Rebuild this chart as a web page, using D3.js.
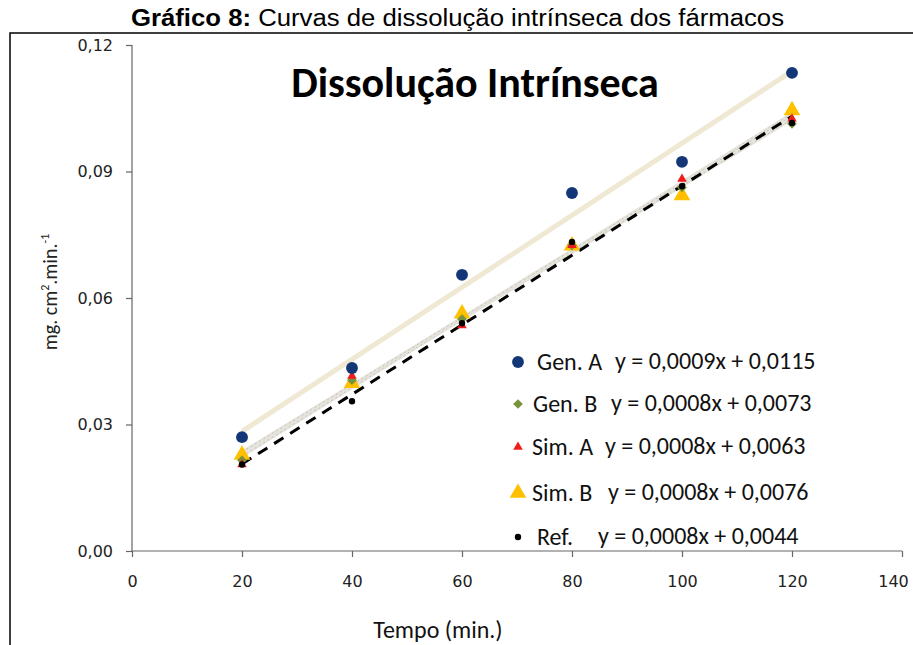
<!DOCTYPE html>
<html>
<head>
<meta charset="utf-8">
<script src="https://cdn.jsdelivr.net/npm/d3@7"></script>
<style>
	body { margin: 0; background: #fff; }
	svg { display: block; }
</style>
</head>
<body>
<svg id="chart" width="913" height="645"></svg>
<script>
// tempo (min.)
var tempos = [20, 40, 60, 80, 100, 120];

// mg.cm2.min-1
var genA = [0.0270, 0.0434, 0.0655, 0.0849, 0.0923, 0.1134];
var genB = [0.0215, 0.0405, 0.0550, 0.0725, 0.0862, 0.1013];
var simA = [0.0205, 0.0415, 0.0535, 0.0725, 0.0882, 0.1025];
var simB = [0.0228, 0.0398, 0.0563, 0.0724, 0.0843, 0.1045];
var ref  = [0.0205, 0.0355, 0.0540, 0.0733, 0.0865, 0.1015];

var legendNames = ["Gen. A", "Gen. B", "Sim. A", "Sim. B", "Ref."];
var equations = ["y = 0,0009x + 0,0115", "y = 0,0008x + 0,0073", "y = 0,0008x + 0,0063",
	"y = 0,0008x + 0,0076", "y = 0,0008x + 0,0044"];

var xTicks = [0, 20, 40, 60, 80, 100, 120, 140];
var yTicks = [0, 0.03, 0.06, 0.09, 0.12];

var svg = d3.select("#chart");

var x = d3.scaleLinear().domain([0, 140]).range([132, 902]);
var y = d3.scaleLinear().domain([0, 0.12]).range([551, 45]);

var comma = function(d) { return d3.format(".2f")(d).replace(".", ","); };
var calibri = "Carlito, Lato, sans-serif";
var verdana = "'DejaVu Sans', Verdana, sans-serif";

// outer frame
svg.append("path")
	.attr("d", "M10,645 L10,33 L913,33")
	.attr("fill", "none")
	.attr("stroke", "#000")
	.attr("stroke-width", 1.5);

// title
var title = svg.append("text")
	.attr("x", 131).attr("y", 26)
	.attr("textLength", 653)
	.attr("lengthAdjust", "spacingAndGlyphs")
	.style("font-family", "'Liberation Sans', Arial, sans-serif")
	.style("font-size", "23px")
	.attr("fill", "#000");
title.append("tspan").style("font-weight", "bold").text("Gráfico 8:");
title.append("tspan").text(" Curvas de dissolução intrínseca dos fármacos");

// axes
var xAxis = d3.axisBottom(x).tickValues(xTicks).tickSize(6).tickPadding(19).tickFormat(d3.format("d"));
var yAxis = d3.axisLeft(y).tickValues(yTicks).tickSize(6).tickPadding(13).tickFormat(comma);

var gx = svg.append("g").attr("transform", "translate(0," + y(0) + ")").call(xAxis);
var gy = svg.append("g").attr("transform", "translate(" + x(0) + ",0)").call(yAxis);

[gx, gy].forEach(function(g) {
	g.select(".domain").attr("stroke", "#666").attr("stroke-width", 1.2);
	g.selectAll(".tick line").attr("stroke", "#666").attr("stroke-width", 1.2);
	g.selectAll(".tick text")
		.style("font-family", verdana)
		.style("font-size", "16px")
		.attr("fill", "#222");
});
gx.select(".domain").attr("d", "M" + x(0) + ",0H" + x(140));
gy.select(".domain").attr("d", "M0," + y(0.12) + "V" + y(0));
// last label sits against the page edge
gx.selectAll(".tick text").filter(function(d) { return d === 140; }).attr("dx", -9);

// chart title
svg.append("text")
	.attr("x", 475).attr("y", 97)
	.attr("text-anchor", "middle")
	.style("font-family", calibri)
	.style("font-weight", "bold")
	.style("font-size", "42px")
	.attr("fill", "#000")
	.text("Dissolução Intrínseca");

// axis titles
svg.append("text")
	.attr("x", 438).attr("y", 638)
	.attr("text-anchor", "middle")
	.style("font-family", calibri)
	.style("font-size", "24px")
	.attr("fill", "#111")
	.text("Tempo (min.)");

var yl = svg.append("text")
	.attr("transform", "translate(57,292) rotate(-90)")
	.attr("text-anchor", "middle")
	.style("font-family", calibri)
	.style("font-size", "20px")
	.attr("fill", "#222");
yl.append("tspan").text("mg. cm");
yl.append("tspan").attr("dy", -8).style("font-size", "12px").text("2");
yl.append("tspan").attr("dy", 8).text(".min.");
yl.append("tspan").attr("dy", -8).style("font-size", "12px").text("-1");

// least squares trend line
function fit(vals) {
	var mx = d3.mean(tempos), my = d3.mean(vals);
	var sxy = d3.sum(tempos, function(t, i) { return (t - mx) * (vals[i] - my); });
	var sxx = d3.sum(tempos, function(t) { return (t - mx) * (t - mx); });
	var b = sxy / sxx;
	var a = my - b * mx;
	return [[20, a + b * 20], [120, a + b * 120]];
}

var line = d3.line().x(function(d) { return x(d[0]); }).y(function(d) { return y(d[1]); });

// thin greyish lines for Gen. B, Sim. A, Sim. B
[genB, simA, simB].forEach(function(vals) {
	svg.append("path").attr("d", line(fit(vals)))
		.attr("fill", "none").attr("stroke", "#e6e4dc").attr("stroke-width", 3);
	svg.append("path").attr("d", line(fit(vals)))
		.attr("fill", "none").attr("stroke", "#c4c2ba").attr("stroke-width", 1)
		.attr("stroke-dasharray", "2,3");
});
svg.append("path").attr("d", line(fit(genA)))
	.attr("fill", "none").attr("stroke", "#efe8d2").attr("stroke-width", 5);
svg.append("path").attr("d", line(fit(ref)))
	.attr("fill", "none").attr("stroke", "#000").attr("stroke-width", 3)
	.attr("stroke-dasharray", "11,8");

// markers
var symGenA = d3.symbol().type(d3.symbolCircle).size(110);
var symGenB = d3.symbol().type(d3.symbolDiamond2).size(60);
var symSimA = d3.symbol().type(d3.symbolTriangle).size(40);
var symSimB = d3.symbol().type(d3.symbolTriangle).size(120);
var symRef = d3.symbol().type(d3.symbolCircle).size(32);

var series = [
	{ vals: simB, sym: symSimB, color: "#ffc000" },
	{ vals: genB, sym: symGenB, color: "#77933c" },
	{ vals: simA, sym: symSimA, color: "#ee1c1c" },
	{ vals: ref, sym: symRef, color: "#000000" },
	{ vals: genA, sym: symGenA, color: "#133776" }
];

series.forEach(function(s) {
	svg.append("g").selectAll("path")
		.data(s.vals)
		.enter().append("path")
		.attr("d", s.sym)
		.attr("transform", function(d, i) { return "translate(" + x(tempos[i]) + "," + y(d) + ")"; })
		.attr("fill", s.color);
});

// legend
var legRows = [362, 404, 447, 493, 537];
var nameX = [537, 533, 532, 532, 537];
var eqX = [615, 611, 605, 608, 598];
var legSyms = [symGenA, symGenB, symSimA, symSimB, symRef];
var legColors = ["#133776", "#77933c", "#ee1c1c", "#ffc000", "#000000"];

legendNames.forEach(function(n, i) {
	svg.append("path")
		.attr("d", legSyms[i])
		.attr("transform", "translate(518," + legRows[i] + ")")
		.attr("fill", legColors[i]);
	svg.append("text")
		.attr("x", nameX[i]).attr("y", legRows[i] + 8)
		.style("font-family", calibri)
		.style("font-size", "24px")
		.attr("fill", "#111")
		.text(n);
	svg.append("text")
		.attr("x", eqX[i]).attr("y", legRows[i] + 7)
		.style("font-family", calibri)
		.style("font-size", "24px")
		.attr("fill", "#111")
		.text(equations[i]);
});
</script>
</body>
</html>
